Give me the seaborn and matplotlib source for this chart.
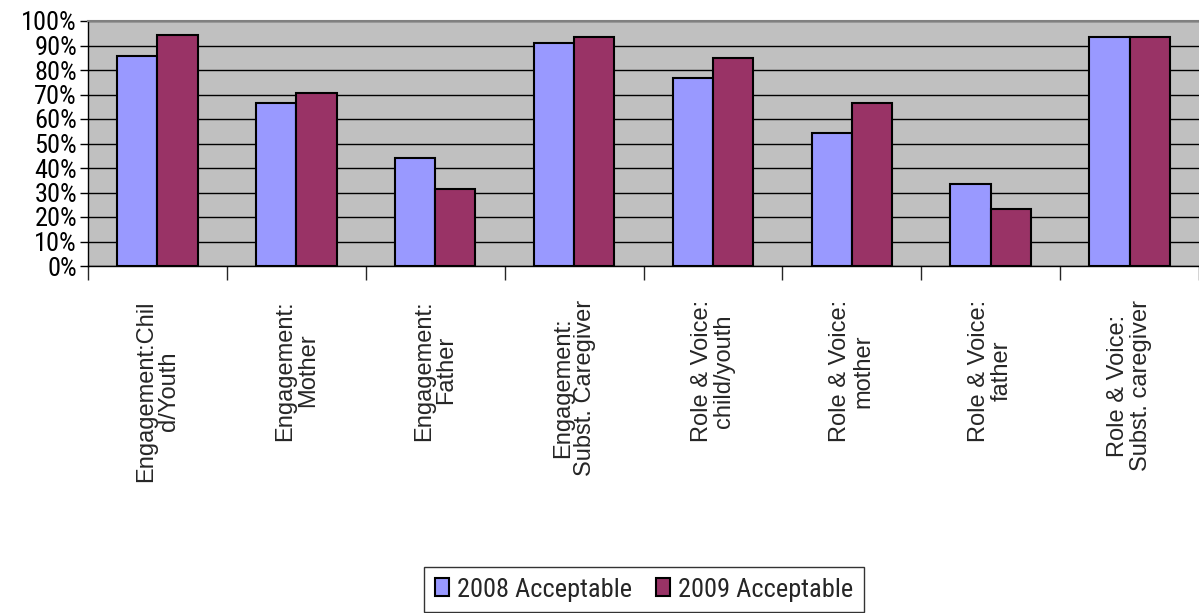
import matplotlib
matplotlib.use("Agg")
import matplotlib.pyplot as plt
import matplotlib.font_manager as fm
from matplotlib.ticker import FixedLocator, PercentFormatter
import pandas as pd
import seaborn as sns

# カテゴリと値
categories = [
    "Engagement:Chil\nd/Youth",
    "Engagement:\nMother",
    "Engagement:\nFather",
    "Engagement:\nSubst. Caregiver",
    "Role & Voice:\nchild/youth",
    "Role & Voice:\nmother",
    "Role & Voice:\nfather",
    "Role & Voice:\nSubst. caregiver",
]
series_names = ["2008 Acceptable", "2009 Acceptable"]
values_2008 = [0.857, 0.664, 0.440, 0.909, 0.766, 0.542, 0.333, 0.933]
values_2009 = [0.943, 0.707, 0.314, 0.933, 0.849, 0.667, 0.233, 0.933]
y_ticks = [i / 10 for i in range(11)]

colors = ["#9999FF", "#993366"]

df = pd.DataFrame(
    {
        "Category": categories * 2,
        "Series": [series_names[0]] * len(categories) + [series_names[1]] * len(categories),
        "Value": values_2008 + values_2009,
    }
)

sns.set_style("white")
names = {f.name for f in fm.fontManager.ttflist}
family = "Liberation Sans"
for cand in ["Liberation Sans Narrow", "Arial Narrow", "Roboto Condensed"]:
    if cand in names:
        family = cand
        break
plt.rcParams["font.family"] = [family, "DejaVu Sans"]

fig = plt.figure(figsize=(11.99, 6.13), dpi=100)
ax = fig.add_axes([88 / 1199, 1 - 266 / 613, 1 - 88 / 1199, 245 / 613])

sns.barplot(
    data=df, x="Category", y="Value", hue="Series",
    palette=colors, saturation=1, width=0.58, edgecolor="black", linewidth=1.5,
    ax=ax, legend=True, zorder=3,
)

ax.set_facecolor("#C0C0C0")
ax.set_xlim(-0.5, len(categories) - 0.5)
ax.set_ylim(0, 1)
ax.yaxis.set_major_locator(FixedLocator(y_ticks))
ax.yaxis.set_major_formatter(PercentFormatter(1.0, decimals=0))
ax.grid(axis="y", color="black", linewidth=1, zorder=0)
ax.set_axisbelow(True)
ax.set_xlabel("")
ax.set_ylabel("")

for side in ["left", "bottom"]:
    ax.spines[side].set_color("black")
    ax.spines[side].set_linewidth(1)
ax.spines["top"].set_color("#808080")
ax.spines["top"].set_linewidth(1.5)
ax.spines["right"].set_visible(False)

ax.tick_params(axis="y", left=True, length=6, width=1, labelsize=19, pad=2, colors="black")
# 区切り位置に目盛り線、ラベルは中央
ax.set_xticks(range(len(categories)))
ax.set_xticklabels(categories, rotation=90, fontsize=17, va="top", ha="center",
                   multialignment="center", linespacing=1.05,
                   family=["Liberation Sans", "DejaVu Sans"])
ax.set_xticks([i + 0.5 for i in range(-1, len(categories))], minor=True)
ax.tick_params(axis="x", which="major", bottom=False, pad=21)
ax.tick_params(axis="x", which="minor", bottom=True, length=10, width=1)

handles, labels = ax.get_legend_handles_labels()
ax.get_legend().remove()
leg = fig.legend(
    handles, labels, loc="upper center", bbox_to_anchor=(644 / 1199, 1 - 567 / 613),
    ncol=2, frameon=True, fancybox=False, fontsize=19,
    handlelength=0.55, handleheight=0.65, handletextpad=0.3, columnspacing=0.9,
    borderpad=0.4, borderaxespad=0,
)
leg.get_frame().set_edgecolor("black")
leg.get_frame().set_linewidth(1)

fig.savefig("out.png", dpi=100)
